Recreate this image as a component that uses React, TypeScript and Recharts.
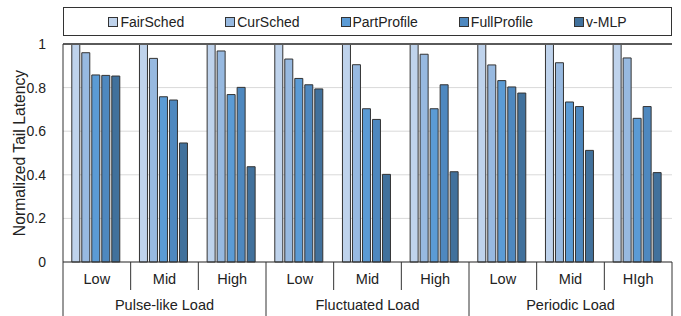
import React from 'react';
import {
  BarChart,
  Bar,
  XAxis,
  YAxis,
  CartesianGrid,
  Legend,
  ReferenceLine,
} from 'recharts';

const levels = ['Low', 'Mid', 'High', 'Low', 'Mid', 'High', 'Low', 'Mid', 'HIgh'];
const loadGroups = ['Pulse-like Load', 'Fluctuated Load', 'Periodic Load'];

const seriesNames = ['FairSched', 'CurSched', 'PartProfile', 'FullProfile', 'v-MLP'];
const seriesColors = ['#bfd3ec', '#97b9e0', '#5b9bd5', '#4e88bf', '#41719c'];

const fairSched = [1, 1, 1, 1, 1, 1, 1, 1, 1];
const curSched = [0.96, 0.934, 0.968, 0.931, 0.905, 0.953, 0.904, 0.914, 0.936];
const partProfile = [0.858, 0.758, 0.768, 0.842, 0.703, 0.703, 0.832, 0.734, 0.659];
const fullProfile = [0.856, 0.743, 0.801, 0.813, 0.654, 0.813, 0.803, 0.713, 0.713];
const vMLP = [0.853, 0.546, 0.437, 0.794, 0.402, 0.414, 0.775, 0.512, 0.41];

const yTicks = [0, 0.2, 0.4, 0.6, 0.8, 1];

const W = 681;
const H = 316;
const MARGIN = { top: 44, right: 9, left: 0, bottom: 0 };
const Y_AXIS_W = 63;
const X_AXIS_H = 54;
const FONT = 'Arial, "Liberation Sans", sans-serif';

const seriesValues = [fairSched, curSched, partProfile, fullProfile, vMLP];

const data = levels.map((level, i) => {
  const row: Record<string, string | number> = { level };
  seriesNames.forEach((name, s) => {
    row[name] = seriesValues[s][i];
  });
  return row;
});

const plotWidth = W - MARGIN.left - MARGIN.right - Y_AXIS_W;
const step = plotWidth / levels.length;

// two-level category tick: level label, group label and separator lines
function LevelTick(props: any) {
  const { x, y, index, payload } = props;
  const left = x - step / 2;
  const right = x + step / 2;
  const groupEnd = index % 3 === 2;
  const groupMid = index % 3 === 1;
  return (
    <g>
      <text
        x={x}
        y={y + 22}
        textAnchor="middle"
        fontSize={14.5}
        fontFamily={FONT}
        fill="#222"
      >
        {payload.value}
      </text>
      {index === 0 && <line x1={left} y1={y} x2={left} y2={y + X_AXIS_H} stroke="#333" />}
      <line x1={right} y1={y} x2={right} y2={y + (groupEnd ? X_AXIS_H : 28)} stroke="#333" />
      {groupMid && (
        <text
          x={x}
          y={y + 48}
          textAnchor="middle"
          fontSize={14.5}
          fontFamily={FONT}
          fill="#222"
        >
          {loadGroups[Math.floor(index / 3)]}
        </text>
      )}
    </g>
  );
}

function LegendBox() {
  return (
    <div
      style={{
        boxSizing: 'border-box',
        width: '100%',
        height: '100%',
        border: '1px solid #333',
        display: 'flex',
        justifyContent: 'center',
        alignItems: 'center',
        gap: 41,
        fontFamily: FONT,
        fontSize: 14,
        color: '#222',
      }}
    >
      {seriesNames.map((name, s) => (
        <div key={name} style={{ display: 'flex', alignItems: 'center' }}>
          <span
            style={{
              display: 'inline-block',
              width: 8,
              height: 8,
              background: seriesColors[s],
              border: '1px solid #333',
              marginRight: 2,
            }}
          />
          <span>{name}</span>
        </div>
      ))}
    </div>
  );
}

export default function App() {
  return (
    <div style={{ position: 'absolute', top: 0, left: 0, width: W, height: H, background: '#fff' }}>
      <BarChart
        width={W}
        height={H}
        data={data}
        margin={MARGIN}
        barCategoryGap="13%"
        barGap={2}
      >
        <CartesianGrid vertical={false} stroke="#d9d9d9" />
        <XAxis
          dataKey="level"
          height={X_AXIS_H}
          tickLine={false}
          tickSize={0}
          tickMargin={0}
          axisLine={{ stroke: '#333' }}
          tick={<LevelTick />}
          interval={0}
        />
        <YAxis
          domain={[0, 1]}
          ticks={yTicks}
          width={Y_AXIS_W}
          tickLine={false}
          tickMargin={11}
          axisLine={{ stroke: '#333' }}
          tick={{ fontSize: 14, fontFamily: FONT, fill: '#222' }}
          label={{
            content: ({ viewBox }: any) => {
              const cx = viewBox.x + 19;
              const cy = viewBox.y + viewBox.height / 2;
              return (
                <text
                  x={cx}
                  y={cy}
                  transform={`rotate(-90, ${cx}, ${cy})`}
                  textAnchor="middle"
                  dominantBaseline="central"
                  fontSize={15.7}
                  fontFamily={FONT}
                  fill="#222"
                >
                  Normalized Tail Latency
                </text>
              );
            },
          }}
        />
        <YAxis
          yAxisId="border"
          orientation="right"
          width={0}
          domain={[0, 1]}
          tick={false}
          tickLine={false}
          axisLine={{ stroke: '#666' }}
        />
        <Legend
          layout="horizontal"
          verticalAlign="middle"
          align="center"
          wrapperStyle={{ top: 7, left: 63, width: 609, height: 29 }}
          content={<LegendBox />}
        />
        {seriesNames.map((name, s) => (
          <Bar
            key={name}
            dataKey={name}
            fill={seriesColors[s]}
            stroke="#333"
            strokeWidth={1}
            isAnimationActive={false}
          />
        ))}
        <ReferenceLine y={1} stroke="#5a5a5a" strokeWidth={2} />
      </BarChart>
    </div>
  );
}
